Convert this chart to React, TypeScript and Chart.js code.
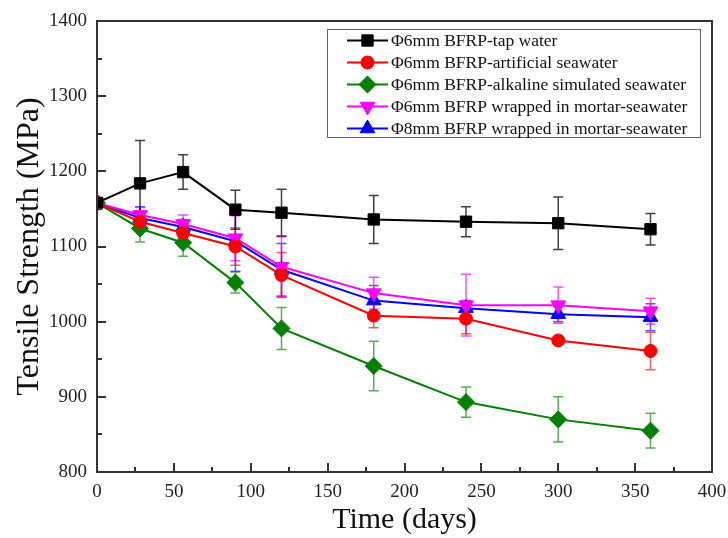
import React, { useEffect, useRef } from 'react';
import { Chart, registerables } from 'chart.js';
import { drawPoint } from 'chart.js/helpers';

Chart.register(...registerables);

const SERIF = '"Liberation Serif", "Times New Roman", serif';

// ---- data ----
const days = [0, 28, 56, 90, 120, 180, 240, 300, 360];

const tapWater = [1158, 1184, 1199, 1149, 1145, 1136, 1133, 1131, 1123];
const tapWaterErr = [0, 57, 23, 26, 31, 32, 20, 35, 21];

const artificialSea = [1158, 1133, 1118, 1100, 1062, 1008, 1004, 975, 961];
const artificialSeaErr = [0, 12, 15, 25, 30, 16, 20, 5, 25];

const alkalineSea = [1158, 1124, 1105, 1052, 991, 941, 893, 870, 855];
const alkalineSeaErr = [0, 18, 18, 14, 28, 33, 20, 30, 23];

const mortar6 = [1158, 1142, 1130, 1111, 1073, 1038, 1022, 1022, 1014];
const mortar6Err = [0, 10, 12, 30, 40, 21, 41, 24, 17];

const mortar8 = [1158, 1138, 1126, 1107, 1069, 1028, 1018, 1010, 1006];
const mortar8Err = [0, 15, 10, 40, 35, 20, 10, 10, 18];

const seriesLabels = [
  'Φ6mm BFRP-tap water',
  'Φ6mm BFRP-artificial seawater',
  'Φ6mm BFRP-alkaline simulated seawater',
  'Φ6mm BFRP wrapped in mortar-seawater',
  'Φ8mm BFRP wrapped in mortar-seawater',
];

const xMin = 0, xMax = 400, xStep = 50;
const yMin = 800, yMax = 1400, yStep = 100;

const styles = [
  { color: '#000000', err: 'rgba(0,0,0,0.75)', pointStyle: 'rect', radius: 8, rotation: 0 },
  { color: '#ff0000', err: 'rgba(255,0,0,0.65)', pointStyle: 'circle', radius: 6.5, rotation: 0 },
  { color: '#008000', err: 'rgba(0,128,0,0.65)', pointStyle: 'rectRot', radius: 8.5, rotation: 0 },
  { color: '#ff00ff', err: 'rgba(255,0,255,0.7)', pointStyle: 'triangle', radius: 8.5, rotation: 180 },
  { color: '#0000ff', err: 'rgba(0,0,255,0.65)', pointStyle: 'triangle', radius: 8.5, rotation: 0 },
];

const values = [tapWater, artificialSea, alkalineSea, mortar6, mortar8];
const errors = [tapWaterErr, artificialSeaErr, alkalineSeaErr, mortar6Err, mortar8Err];

const AXIS = '#333333';

const errorBarPlugin = {
  id: 'errorBars',
  beforeDatasetsDraw(chart: any) {
    const { ctx } = chart;
    const x = chart.scales.x, y = chart.scales.y;
    ctx.save();
    ctx.lineWidth = 1.5;
    for (let i = values.length - 1; i >= 0; i--) {
      ctx.strokeStyle = styles[i].err;
      values[i].forEach((v, j) => {
        const e = errors[i][j];
        if (!e) return;
        const px = x.getPixelForValue(days[j]);
        const t = y.getPixelForValue(v + e);
        const b = y.getPixelForValue(v - e);
        ctx.beginPath();
        ctx.moveTo(px, t); ctx.lineTo(px, b);
        ctx.moveTo(px - 5, t); ctx.lineTo(px + 5, t);
        ctx.moveTo(px - 5, b); ctx.lineTo(px + 5, b);
        ctx.stroke();
      });
    }
    ctx.restore();
  },
};

const framePlugin = {
  id: 'frame',
  afterDraw(chart: any) {
    const { ctx, chartArea: a } = chart;
    const x = chart.scales.x, y = chart.scales.y;
    ctx.save();
    ctx.strokeStyle = AXIS;
    ctx.lineWidth = 2;
    ctx.strokeRect(a.left, a.top, a.right - a.left, a.bottom - a.top);
    ctx.beginPath();
    for (let v = xMin; v <= xMax; v += xStep / 2) {
      const px = Math.round(x.getPixelForValue(v));
      const len = v % xStep === 0 ? 9 : 5;
      ctx.moveTo(px, a.bottom); ctx.lineTo(px, a.bottom - len);
    }
    for (let v = yMin; v <= yMax; v += yStep / 2) {
      const py = Math.round(y.getPixelForValue(v));
      const len = v % yStep === 0 ? 9 : 5;
      ctx.moveTo(a.left, py); ctx.lineTo(a.left + len, py);
    }
    ctx.stroke();

    // legend
    const boxL = 327, boxT = 29, boxR = 700, boxB = 137;
    ctx.fillStyle = '#ffffff';
    ctx.fillRect(boxL, boxT, boxR - boxL, boxB - boxT);
    ctx.lineWidth = 1;
    ctx.strokeStyle = '#666666';
    ctx.strokeRect(boxL + 0.5, boxT + 0.5, boxR - boxL, boxB - boxT);
    ctx.font = `17.5px ${SERIF}`;
    ctx.textBaseline = 'middle';
    ctx.textAlign = 'left';
    seriesLabels.forEach((label, i) => {
      const ry = 40.5 + i * 22;
      const s = styles[i];
      ctx.strokeStyle = s.color;
      ctx.lineWidth = 2;
      ctx.beginPath();
      ctx.moveTo(347, ry); ctx.lineTo(388, ry);
      ctx.stroke();
      ctx.fillStyle = s.color;
      ctx.lineWidth = 1;
      drawPoint(ctx, { pointStyle: s.pointStyle, radius: s.radius, rotation: s.rotation, borderWidth: 1 } as any, 367.5, ry);
      ctx.fillStyle = '#111111';
      ctx.fillText(label, 391, ry + 1);
    });
    ctx.restore();
  },
};

export default function App() {
  const ref = useRef<HTMLCanvasElement | null>(null);
  useEffect(() => {
    if (!ref.current) return;
    const chart = new Chart(ref.current, {
      type: 'line',
      data: {
        datasets: values.map((vals, i) => ({
          label: seriesLabels[i],
          data: vals.map((v, j) => ({ x: days[j], y: v })),
          borderColor: styles[i].color,
          backgroundColor: styles[i].color,
          pointBackgroundColor: styles[i].color,
          pointBorderColor: styles[i].color,
          pointStyle: styles[i].pointStyle as any,
          pointRadius: styles[i].radius,
          pointRotation: styles[i].rotation,
          pointBorderWidth: 1,
          borderWidth: 2,
          tension: 0,
          fill: false,
        })),
      },
      options: {
        animation: false,
        responsive: false,
        maintainAspectRatio: false,
        layout: { padding: { top: 21, right: 16, left: 0, bottom: 0 } },
        plugins: { legend: { display: false }, tooltip: { enabled: false } },
        scales: {
          x: {
            type: 'linear',
            min: xMin,
            max: xMax,
            grid: { display: false, drawTicks: false },
            border: { display: false },
            ticks: { stepSize: xStep, color: '#222', font: { family: SERIF, size: 19 }, padding: 9, maxRotation: 0, callback: (v: any) => String(v) },
            title: { display: true, text: 'Time (days)', color: '#111', font: { family: SERIF, size: 30 }, padding: { top: 0, bottom: 0 } },
            afterFit: (s: any) => { s.height = 66; s.paddingRight = 0; s.paddingLeft = 0; },
          },
          y: {
            type: 'linear',
            min: yMin,
            max: yMax,
            grid: { display: false, drawTicks: false },
            border: { display: false },
            ticks: { stepSize: yStep, color: '#222', font: { family: SERIF, size: 19 }, padding: 10, callback: (v: any) => String(v) },
            title: { display: true, text: 'Tensile Strength (MPa)', color: '#111', font: { family: SERIF, size: 32 }, padding: { top: 10, bottom: 0 } },
            afterFit: (s: any) => { s.width = 97; s.paddingTop = 0; s.paddingBottom = 0; },
          },
        },
      },
      plugins: [errorBarPlugin, framePlugin],
    });
    return () => chart.destroy();
  }, []);
  return (
    <div style={{ position: 'fixed', left: 0, top: 0, width: 728, height: 538, background: '#fff' }}>
      <canvas ref={ref} width={728} height={538} />
    </div>
  );
}
